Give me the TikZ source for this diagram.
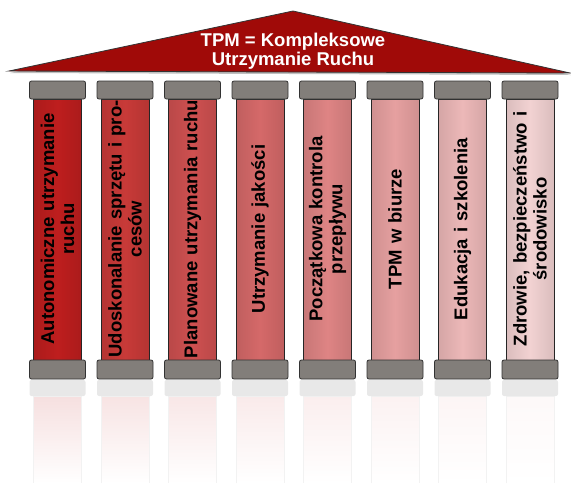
\documentclass[tikz,border=0pt]{standalone}
\usepackage{fontspec}
\setsansfont{Liberation Sans}
\definecolor{roofred}{RGB}{160,10,8}
\definecolor{capgray}{RGB}{130,126,122}
\definecolor{colA}{RGB}{190,30,30}
\definecolor{colB}{RGB}{200,58,56}
\definecolor{colC}{RGB}{206,80,80}
\definecolor{colD}{RGB}{213,105,105}
\definecolor{colE}{RGB}{222,132,132}
\definecolor{colF}{RGB}{230,160,160}
\definecolor{colG}{RGB}{236,184,184}
\definecolor{colH}{RGB}{242,210,210}
\tikzset{
  capbox/.style={draw=black!80,fill=capgray,rounded corners=2pt,line width=0.8pt},
  collabel/.style={rotate=90,text width=262pt,align=center,inner sep=0pt,
    font=\sffamily\bfseries\fontsize{18.5}{20}\selectfont},
}
\begin{document}
\begin{tikzpicture}[x=1pt,y=-1pt]
  \useasboundingbox (0,0) rectangle (571,483);
  % roof
  \fill[black!25] (10,73) -- (293,14) -- (571,75) -- cycle;
  \draw[fill=roofred,draw=black!80,line width=0.8pt] (9,71) -- (293,11) -- (570,73) -- cycle;
  \node[text=white,align=center,font=\sffamily\bfseries\fontsize{18.5}{18.5}\selectfont] (title) at (293,51) {TPM = Kompleksowe\\Utrzymanie Ruchu};
  % pillars
  \foreach \i/\colr/\txt in {0/colA/{Autonomiczne utrzymanie\\ruchu},
      1/colB/{Udoskonalanie sprzętu i pro-\\cesów},
      2/colC/{Planowane utrzymania ruchu},
      3/colD/{Utrzymanie jakości},
      4/colE/{Początkowa kontrola\\przepływu},
      5/colF/{TPM w biurze},
      6/colG/{Edukacja i szkolenia},
      7/colH/{Zdrowie, bezpieczeństwo i\\środowisko}} {
    \pgfmathsetmacro\x{29.5+67.5*\i}
    \shade[top color=\colr!14!white,bottom color=white] (\x+4,396) rectangle (\x+52,483);
    \draw[gray!10] (\x+4,483) -- (\x+4,396) -- (\x+52,396) -- (\x+52,483);
    \fill[gray!18,rounded corners=2pt] (\x,380) rectangle (\x+56,396);
    \shade[left color=\colr!90!black,right color=\colr!90!black,middle color=\colr] (\x+4,99) rectangle (\x+52,360);
    \draw[black!85,line width=0.8pt] (\x+4,99) rectangle (\x+52,360);
    \draw[capbox] (\x,81) rectangle (\x+56,99);
    \draw[capbox] (\x,360) rectangle (\x+56,379);
    \node[collabel] (col\i) at (\x+28,229) {\txt};
  }
\end{tikzpicture}
\end{document}
